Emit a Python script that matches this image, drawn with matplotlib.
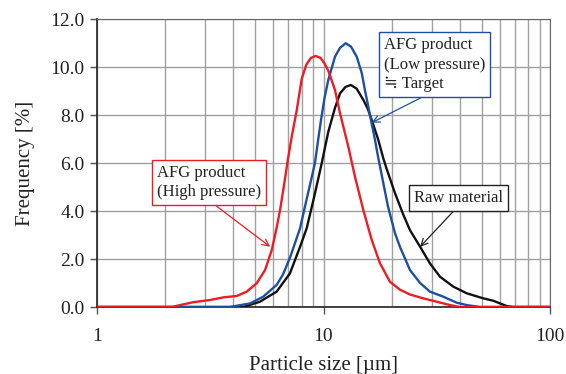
import matplotlib
matplotlib.use("Agg")
import matplotlib.pyplot as plt
from matplotlib.ticker import FixedLocator, FormatStrFormatter, NullFormatter

plt.rcParams['font.family'] = ['Liberation Serif', 'DejaVu Serif']

# High pressure AFG product (red)
red_x = [1.0, 2.14, 2.33, 2.66, 3.15, 3.61, 4.14, 4.58, 5.07, 5.52, 5.91, 6.21, 6.43, 6.7,
         6.95, 7.24, 7.62, 8.01, 8.4, 8.8, 9.24, 9.7, 10.1, 10.5, 11.24, 11.83, 12.87, 13.77,
         14.99, 16.33, 17.76, 19.66, 21.77, 24.09, 27.58, 31.61, 36.18, 40.06, 100.0]
red_y = [0.0, 0.0, 0.08, 0.2, 0.29, 0.40, 0.46, 0.64, 0.99, 1.54, 2.37, 3.3, 4.04, 5.1,
         6.1, 7.1, 8.2, 9.5, 10.1, 10.38, 10.46, 10.38, 10.15, 9.85, 9.04, 8.07, 6.68, 5.43,
         4.04, 2.79, 1.82, 1.05, 0.72, 0.52, 0.36, 0.22, 0.08, 0.0, 0.0]

# Low pressure AFG product (blue)
blue_x = [1.0, 3.86, 4.74, 5.42, 6.21, 6.62, 7.11, 7.88, 8.29, 8.72, 9.17, 9.45, 9.75, 10.1,
          10.5, 11.24, 11.83, 12.53, 13.22, 14.02, 14.75, 15.3, 15.77, 16.2, 16.88, 17.46,
          18.07, 19.27, 20.69, 21.77, 24.09, 26.7, 29.5, 33.8, 38.7, 42.9, 49.1, 100.0]
blue_y = [0.0, 0.0, 0.15, 0.43, 0.92, 1.35, 2.05, 3.28, 4.2, 5.1, 6.0, 6.9, 7.79, 8.7,
          9.46, 10.43, 10.8, 10.99, 10.85, 10.43, 9.75, 8.95, 8.35, 7.79, 6.96, 6.2,
          5.5, 4.18, 3.07, 2.5, 1.54, 1.0, 0.64, 0.43, 0.18, 0.08, 0.0, 0.0]

# Raw material (black)
black_x = [1.0, 4.42, 5.24, 6.21, 7.11, 7.88, 8.43, 9.1, 9.82, 10.5, 11.24, 11.83, 12.5, 13.2,
           14.0, 14.99, 15.7, 16.33, 17.46, 18.36, 19.01, 20.69, 22.5, 24.09, 26.7, 29.5,
           32.7, 37.4, 42.9, 50.8, 56.2, 60.1, 64.4, 68.9, 100.0]
black_y = [0.0, 0.0, 0.22, 0.64, 1.4, 2.51, 3.28, 4.6, 5.99, 7.3, 8.3, 8.9, 9.17, 9.25,
           9.1, 8.63, 8.25, 7.79, 6.96, 6.2, 5.75, 4.74, 3.85, 3.2, 2.51, 1.82,
           1.26, 0.85, 0.57, 0.36, 0.26, 0.15, 0.04, 0.0, 0.0]

y_ticks = [0, 2, 4, 6, 8, 10, 12]
x_ticks = [1, 10, 100]
x_tick_labels = ["1", "10", "100"]

W, H = 566, 374
fig = plt.figure(figsize=(W / 100, H / 100), dpi=100)
L, R, T, B = 97, 550, 19, 307
ax = fig.add_axes([L / W, 1 - B / H, (R - L) / W, (B - T) / H])

ax.plot(black_x, black_y, color='#111111', lw=1.7, zorder=3, solid_joinstyle='round')
ax.plot(blue_x, blue_y, color='#1f4fa0', lw=1.7, zorder=4, solid_joinstyle='round')
ax.plot(red_x, red_y, color='#ee1c25', lw=1.7, zorder=5, solid_joinstyle='round')

ax.set_xscale('log')
ax.set_xlim(1, 100)
ax.set_ylim(0, 12)
ax.xaxis.set_major_locator(FixedLocator(x_ticks))
ax.set_xticklabels(x_tick_labels)
ax.xaxis.set_minor_locator(FixedLocator([d * m for d in (1, 10) for m in range(2, 10)]))
ax.xaxis.set_minor_formatter(NullFormatter())
ax.set_yticks(y_ticks)
ax.yaxis.set_major_formatter(FormatStrFormatter('%.1f'))

ax.grid(True, which='both', axis='x', color='#a0a0a0', lw=1.0)
ax.grid(True, which='major', axis='y', color='#a0a0a0', lw=1.0)
ax.set_axisbelow(True)

ax.tick_params(axis='both', which='major', direction='out', length=5, width=1,
               labelsize=14, color='#555555', labelcolor='#222222')
ax.tick_params(axis='x', which='minor', length=0)
ax.tick_params(axis='x', pad=10)
ax.tick_params(axis='y', pad=4)

for s in ['top', 'right']:
    ax.spines[s].set_color('#666666')
for s in ['left', 'bottom']:
    ax.spines[s].set_color('#222222')
    ax.spines[s].set_linewidth(1.2)

ax.set_xlabel('Particle size [µm]', fontsize=15, color='#222222', labelpad=8)
ax.set_ylabel('Frequency [%]', fontsize=15, color='#222222', labelpad=11)

ann_fs = 12
ax.annotate('AFG product\n(High pressure)', xy=(5.81, 2.51), xytext=(1.836, 5.19),
            fontsize=ann_fs, color='#222222', ha='left', va='center', linespacing=1.3,
            bbox=dict(boxstyle='square,pad=0.3', fc='white', ec='#ee1c25', lw=1.0),
            arrowprops=dict(arrowstyle='->', color='#ee1c25', lw=0.9,
                            shrinkA=0, shrinkB=0, relpos=(0.5, 0.0)), zorder=6)

ax.annotate('AFG product\n(Low pressure)\n≒ Target', xy=(16.33, 7.68), xytext=(18.46, 10.09),
            fontsize=ann_fs, color='#222222', ha='left', va='center', linespacing=1.3,
            bbox=dict(boxstyle='square,pad=0.3', fc='white', ec='#1f4fa0', lw=1.0),
            arrowprops=dict(arrowstyle='->', color='#1f4fa0', lw=0.9,
                            shrinkA=0, shrinkB=0, relpos=(0.47, 0.0)), zorder=6)

ax.annotate('Raw material', xy=(26.7, 2.51), xytext=(25.22, 4.53),
            fontsize=ann_fs, color='#222222', ha='left', va='center',
            bbox=dict(boxstyle='square,pad=0.3', fc='white', ec='#222222', lw=1.0),
            arrowprops=dict(arrowstyle='->', color='#222222', lw=0.9,
                            shrinkA=0, shrinkB=0, relpos=(0.49, 0.0)), zorder=6)

fig.savefig('out.png', dpi=100)
